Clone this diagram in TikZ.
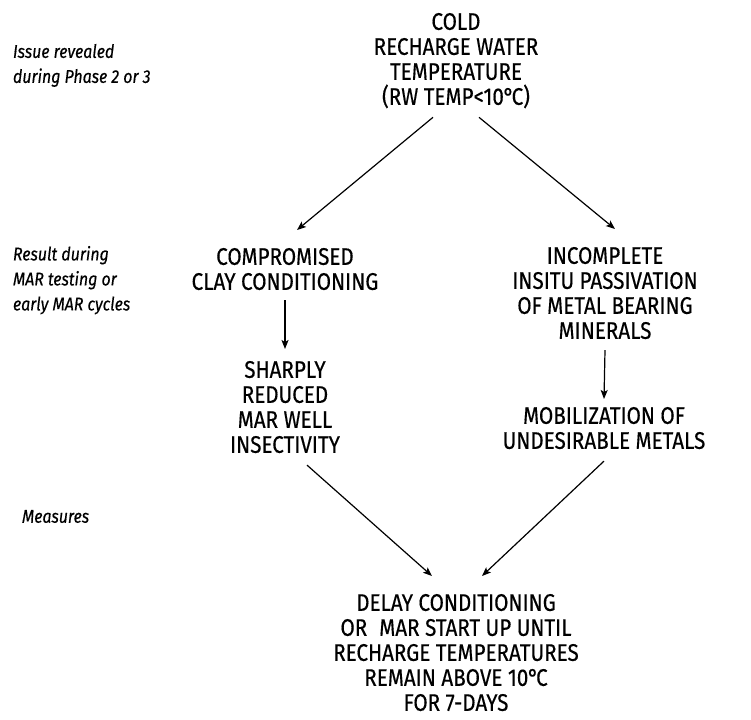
\documentclass[tikz,border=0pt]{standalone}
\usepackage{fontspec}
\setmainfont{Fira Sans}[FakeStretch=0.86,FakeBold=0.4]
\usetikzlibrary{arrows.meta}
\newcommand{\degC}{\kern-0.5pt°\kern-2.5pt C}
\tikzset{
  >={Stealth[length=9pt,width=7pt,inset=2pt]},
  step box/.style={anchor=north,align=center,inner sep=0pt,outer sep=0pt,
    font=\fontsize{24}{25}\selectfont},
  phase/.style={anchor=north west,align=left,inner sep=0pt,outer sep=0pt,
    font=\fontsize{18.5}{25}\selectfont\itshape},
  every picture/.style={line width=1.2pt},
}

\begin{document}
\begin{tikzpicture}[x=1pt,y=-1pt]
\useasboundingbox (0,0) rectangle (751,719);
% phase labels on the left
\node[phase] (L1) at (13,44) {Issue revealed\\during Phase 2 or 3};
\node[phase] (L2) at (13,246) {Result during\\MAR testing or\\early MAR cycles};
\node[phase] (L3) at (22,510) {Measures};
% the chain of causes
\node[step box] (T) at (456,13) {COLD\\RECHARGE WATER\\TEMPERATURE\\(RW TEMP<10\degC)};
\node[step box] (C) at (285,248) {COMPROMISED\\CLAY CONDITIONING};
\node[step box] (I) at (605,247) {INCOMPLETE\\INSITU PASSIVATION\\OF METAL BEARING\\MINERALS};
\node[step box] (S) at (285,361) {SHARPLY\\REDUCED\\MAR WELL\\INSECTIVITY};
\node[step box] (M) at (604,407) {MOBILIZATION OF\\UNDESIRABLE METALS};
\node[step box] (D) at (456,594) {DELAY CONDITIONING\\OR\enspace MAR START UP UNTIL\\RECHARGE TEMPERATURES\\REMAIN ABOVE 10\degC\\FOR 7-DAYS};
\draw[->] ([xshift=-23pt,yshift=-9pt]T.south) -- ([xshift=12pt,yshift=18pt]C.north);
\draw[->] ([xshift=23pt,yshift=-9pt]T.south) -- ([xshift=10pt,yshift=18pt]I.north);
\draw[->] ([yshift=-10pt]C.south) -- ([yshift=12pt]S.north);
\draw[->] ([yshift=-11pt]I.south) -- ([yshift=8pt]M.north);
\draw[->] ([xshift=22pt,yshift=-12pt]S.south) -- ([xshift=-24pt,yshift=18pt]D.north);
\draw[->] ([yshift=-12pt]M.south) -- ([xshift=26pt,yshift=18pt]D.north);
\end{tikzpicture}
\end{document}
